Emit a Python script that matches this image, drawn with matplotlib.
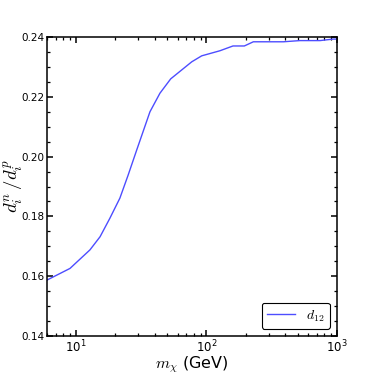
import matplotlib
matplotlib.use("Agg")
import matplotlib.pyplot as plt
from matplotlib.ticker import MultipleLocator

plt.rcParams['mathtext.fontset'] = 'cm'
plt.rcParams['font.family'] = ['DejaVu Sans']

m_chi = [6.0, 9.0, 12.8, 15.3, 18.2, 21.7, 25.1, 29.2, 36.9, 44.0, 53.2, 77.1,
         91.9, 126.8, 159.6, 195.0, 228.6, 388.0, 520.0, 741.0, 933.0, 1000.0]
ratio = [0.1587, 0.1626, 0.1688, 0.1732, 0.1794, 0.1861, 0.1938, 0.2022, 0.2150,
         0.2212, 0.2260, 0.2317, 0.2337, 0.2354, 0.2370, 0.2370, 0.2384, 0.2384,
         0.2388, 0.2388, 0.2393, 0.2393]
label = r'$d_{12}$'

fig = plt.figure(figsize=(3.74, 3.74), dpi=100)
ax = fig.add_axes([47/374, 1-336/374, (337-47)/374, (336-37)/374])
ax.plot(m_chi, ratio, color='#4d4dff', lw=1.0, label=label)
ax.set_xscale('log')
ax.set_xlim(6, 1000)
ax.set_ylim(0.14, 0.24)
ax.yaxis.set_major_locator(MultipleLocator(0.02))
ax.yaxis.set_minor_locator(MultipleLocator(0.005))
ax.tick_params(which='both', direction='in', top=True, right=True, pad=2)
ax.tick_params(axis='y', labelsize=7.5)
ax.tick_params(axis='x', labelsize=8.5)
ax.tick_params(which='major', length=4.3, width=1.1)
ax.tick_params(which='minor', length=2.4, width=0.9)
for s in ax.spines.values():
    s.set_linewidth(1.1)
ax.set_xlabel(r'$m_\chi$ (GeV)', fontsize=11.5, labelpad=-1)
ax.set_ylabel(r'$d_i^n\,/d_i^p$', fontsize=13.5)
ax.yaxis.set_label_coords(-0.072, 0.5)
leg = ax.legend(loc='lower right', fontsize=10, fancybox=True, framealpha=1,
                edgecolor='black', handlelength=2.0)
leg.get_frame().set_linewidth(0.8)
fig.savefig('out.png', dpi=100)
